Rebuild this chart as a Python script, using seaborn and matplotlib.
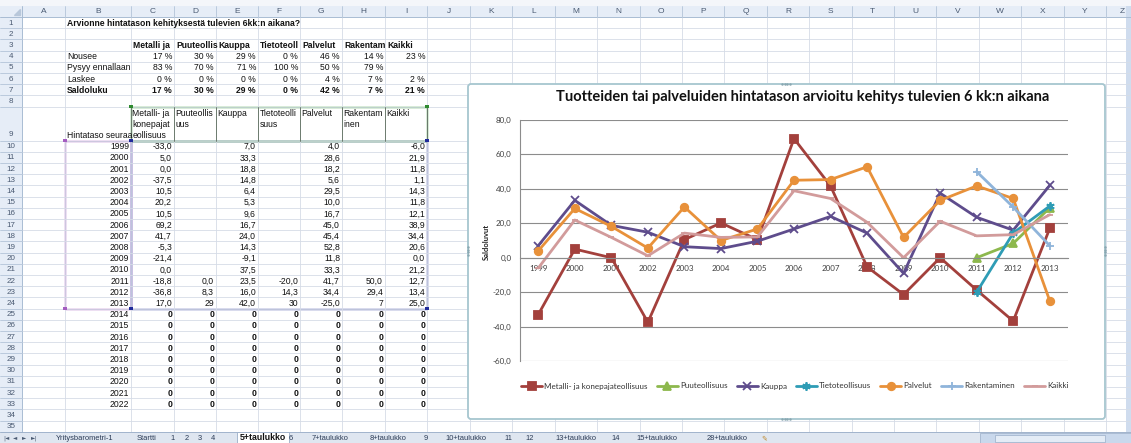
import matplotlib
matplotlib.use("Agg")
import matplotlib.pyplot as plt
from matplotlib.patches import Rectangle, FancyBboxPatch
from matplotlib.ticker import FuncFormatter
import numpy as np
import pandas as pd
import seaborn as sns

NAN = float("nan")

# ─────────────────────────────────────────────
# Data (read from the sheet)
# ─────────────────────────────────────────────
vuodet = list(range(1999, 2014))
sarjat = ["Metalli- ja konepajateollisuus", "Puuteollisuus", "Kauppa",
          "Tietoteollisuus", "Palvelut", "Rakentaminen", "Kaikki"]

metalli      = [-33.0, 5.0, 0.0, -37.5, 10.5, 20.2, 10.5, 69.2, 41.7, -5.3, -21.4, 0.0, -18.8, -36.8, 17.0]
puu          = [NAN] * 12 + [0.0, 8.3, 29]
kauppa       = [7.0, 33.3, 18.8, 14.8, 6.4, 5.3, 9.6, 16.7, 24.0, 14.3, -9.1, 37.5, 23.5, 16.0, 42.0]
tieto        = [NAN] * 12 + [-20.0, 14.3, 30]
palvelut     = [4.0, 28.6, 18.2, 5.6, 29.5, 10.0, 16.7, 45.0, 45.4, 52.8, 11.8, 33.3, 41.7, 34.4, -25.0]
rakentaminen = [NAN] * 12 + [50.0, 29.4, 7]
kaikki       = [-6.0, 21.9, 11.8, 1.1, 14.3, 11.8, 12.1, 38.9, 34.4, 20.6, 0.0, 21.2, 12.7, 13.4, 25.0]
sarja_arvot  = [metalli, puu, kauppa, tieto, palvelut, rakentaminen, kaikki]

tyhjat_vuodet = list(range(2014, 2023))

kysely_rivit = ["Nousee", "Pysyy ennallaan", "Laskee", "Saldoluku"]
kysely_arvot = [
    ["17 %", "30 %", "29 %", "0 %", "46 %", "14 %", "23 %"],
    ["83 %", "70 %", "71 %", "100 %", "50 %", "79 %", ""],
    ["0 %", "0 %", "0 %", "0 %", "4 %", "7 %", "2 %"],
    ["17 %", "30 %", "29 %", "0 %", "42 %", "7 %", "21 %"],
]
lyhyet_otsikot = ["Metalli ja", "Puuteollis", "Kauppa", "Tietoteoll", "Palvelut", "Rakentam", "Kaikki"]
kaaritetyt_otsikot = [["Metalli- ja", "konepajat", "eollisuus"], ["Puuteollis", "uus"], ["Kauppa"],
                      ["Tietoteolli", "suus"], ["Palvelut"], ["Rakentam", "inen"], ["Kaikki"]]

taulu_otsikko  = "Arvionne hintatason kehityksestä tulevien 6kk:n aikana?"
kaavio_otsikko = "Tuotteiden tai palveluiden hintatason arvioitu kehitys tulevien 6 kk:n aikana"

valilehdet = ["Yritysbarometri-1", "Startti", "1", "2", "3", "4", "5+taulukko", "6", "7+taulukko",
              "8+taulukko", "9", "10+taulukko", "11", "12", "13+taulukko", "14", "15+taulukko", "28+taulukko"]
aktiivinen = "5+taulukko"

# ─────────────────────────────────────────────
# Layout / style
# ─────────────────────────────────────────────
W, H = 1131, 443
SHEET_FONT = "Liberation Sans"
CHART_FONT = "Lato"
FS = 6.2
varit   = ["#a3403c", "#8db84d", "#5e4c8c", "#2e9cb5", "#e8913a", "#8fb4da", "#d29b9b"]
merkit  = ["s", "^", "x", (6, 2, 0), "o", "+", "_"]
koot    = [5.2, 5.2, 5.4, 6.0, 5.4, 6.0, 5.0]

kol = [0, 22, 65, 131, 174, 216, 258, 300, 342, 385, 427, 470] + [470 + 42.4 * k for k in range(1, 17)]
tab_x = [85, 147, 173, 187, 200, 213, 263, 291, 330, 388, 426, 466, 508, 530, 576, 616, 657, 727]


def rivi_yla(r):
    if r <= 9:
        return 17 + 11.2 * (r - 1)
    return 140.6 + 11.2 * (r - 10)


def rivi_ala(r):
    return 140.6 if r == 9 else rivi_yla(r) + 11.2


def rivi_kesk(r):
    return (rivi_yla(r) + rivi_ala(r)) / 2 + 0.5


def fmt(v):
    if isinstance(v, int):
        return str(v)
    if isinstance(v, float) and np.isnan(v):
        return ""
    return f"{v:.1f}".replace(".", ",")


sns.set_style("white")
plt.rcParams["font.family"] = [SHEET_FONT, "DejaVu Sans"]

fig = plt.figure(figsize=(W / 100, H / 100), dpi=100)
bg = fig.add_axes([0, 0, 1, 1])
bg.set_xlim(0, W)
bg.set_ylim(H, 0)
bg.axis("off")

# ─────────────────────────────────────────────
# 1. Spreadsheet grid
# ─────────────────────────────────────────────
hdr_fill, hdr_line, grid_c, hdr_txt = "#e6edf7", "#a9bcd3", "#d6dce6", "#4a5a72"
bg.add_patch(Rectangle((0, 0), W, 6, fc="#f4f6fa", ec="none"))
bg.add_patch(Rectangle((0, 6), W, 11, fc=hdr_fill, ec="none"))
bg.add_patch(Rectangle((0, 17), 22, 432 - 17, fc=hdr_fill, ec="none"))
bg.plot([0, W], [17, 17], color=hdr_line, lw=0.7)
bg.plot([22, 22], [6, 432], color=hdr_line, lw=0.7)

for r in range(1, 37):
    y = rivi_ala(r)
    if y < 432:
        bg.plot([22, W], [y, y], color=grid_c, lw=0.6)
        bg.plot([0, 22], [y, y], color=hdr_line, lw=0.5)
    yc = rivi_kesk(r)
    if yc < 432:
        if r == 9:
            yc = 135
        bg.text(11, yc, str(r), ha="center", va="center", fontsize=5.8, color=hdr_txt)

for i in range(1, len(kol) - 1):
    x0, x1 = kol[i], kol[i + 1]
    bg.plot([x1, x1], [17, 432], color=grid_c, lw=0.6)
    bg.plot([x1, x1], [6, 17], color=hdr_line, lw=0.5)
    kirjain = chr(ord("A") + i - 1)
    xc = min((x0 + x1) / 2, 1122)
    bg.text(xc, 11.8, kirjain, ha="center", va="center", fontsize=6, color=hdr_txt)

# corner triangle
bg.fill([14, 20, 20], [15, 15, 9], color="#b8c7da")

# vertical scrollbar strip
bg.add_patch(Rectangle((1126, 6), 5, 426, fc="#cfdcee", ec="none"))

# ─────────────────────────────────────────────
# 2. Cell contents
# ─────────────────────────────────────────────
def solu_vasen(c, r, s, bold=False):
    bg.text(kol[c] + 2, rivi_kesk(r), s, ha="left", va="center", fontsize=FS,
            fontweight="bold" if bold else "normal", color="#111111")


def solu_oikea(c, r, s, bold=False):
    bg.text(kol[c + 1] - 2, rivi_kesk(r), s, ha="right", va="center", fontsize=FS,
            fontweight="bold" if bold else "normal", color="#111111")


solu_vasen(2, 1, taulu_otsikko, bold=True)
for j, s in enumerate(lyhyet_otsikot):
    solu_vasen(3 + j, 3, s, bold=True)
for i, nimi in enumerate(kysely_rivit):
    lihava = nimi == "Saldoluku"
    solu_vasen(2, 4 + i, nimi, bold=lihava)
    for j, s in enumerate(kysely_arvot[i]):
        solu_oikea(3 + j, 4 + i, s, bold=lihava)

# row 9 wrapped headers
for j, rivit in enumerate(kaaritetyt_otsikot):
    for k, s in enumerate(rivit):
        bg.text(kol[3 + j] + 1.5, 113 + 11 * k, s, ha="left", va="center", fontsize=FS, color="#111111")
bg.text(kol[2] + 2, 135, "Hintataso seuraa", ha="left", va="center", fontsize=FS, color="#111111")
for i in range(3, 11):
    bg.plot([kol[i], kol[i]], [106.6, 140.6], color="#5a6a5a", lw=0.6)

# data block
for i, v in enumerate(vuodet):
    r = 10 + i
    solu_oikea(2, r, str(v))
    for j, arvot in enumerate(sarja_arvot):
        solu_oikea(3 + j, r, fmt(arvot[i]))
for i, v in enumerate(tyhjat_vuodet):
    r = 25 + i
    solu_oikea(2, r, str(v))
    for j in range(7):
        bg.text(kol[4 + j] - 4, rivi_kesk(r), "0", ha="center", va="center",
                fontsize=FS, fontweight="bold", color="#111111")

# chart source range highlights
y_top9, y10, y24 = 106.6, 140.6, rivi_ala(24)
bg.add_patch(Rectangle((kol[2], y10), kol[3] - kol[2], y24 - y10, fc="none", ec="#a45cc0", lw=1.0))
bg.add_patch(Rectangle((kol[3], y10), kol[10] - kol[3], y24 - y10, fc="none", ec="#3f48a8", lw=1.0))
bg.add_patch(Rectangle((kol[3], y_top9), kol[10] - kol[3], y10 - y_top9, fc="none", ec="#3d9a3d", lw=1.0))
for (x, y, c) in [(kol[2], y10, "#a45cc0"), (kol[2], y24, "#a45cc0"),
                  (kol[3], y10, "#1f2a9a"), (kol[10], y10, "#1f2a9a"),
                  (kol[3], y24, "#1f2a9a"), (kol[10], y24, "#1f2a9a"),
                  (kol[3], y_top9, "#2f8a2f"), (kol[10], y_top9, "#2f8a2f")]:
    bg.add_patch(Rectangle((x - 1.8, y - 1.8), 3.6, 3.6, fc=c, ec="none", zorder=5))

# ─────────────────────────────────────────────
# 3. Sheet tabs
# ─────────────────────────────────────────────
bg.add_patch(Rectangle((0, 432), W, 11, fc="#dfe6f0", ec="none"))
bg.plot([0, W], [432, 432], color="#9aaec8", lw=0.6)
for x, s in zip([6, 15, 24, 34], ["|◄", "◄", "►", "►|"]):
    bg.text(x, 438, s, ha="center", va="center", fontsize=4, color="#4a5a72", family="DejaVu Sans")
for x, s in zip(tab_x, valilehdet):
    if s == aktiivinen:
        bg.add_patch(Rectangle((x - 26, 432), 52, 11, fc="white", ec="#9aaec8", lw=0.6))
        bg.text(x, 438, s, ha="center", va="center", fontsize=6.3, fontweight="bold", color="#111111")
    else:
        bg.text(x, 438, s, ha="center", va="center", fontsize=5.4, color="#2a3a55")
bg.text(764, 438, "✎", ha="center", va="center", fontsize=5, color="#c08a30", family="DejaVu Sans")
bg.add_patch(Rectangle((980, 433), 151, 10, fc="#c9d8ec", ec="#9aaec8", lw=0.5))
bg.add_patch(Rectangle((995, 434.5), 110, 7, fc="#e4ecf6", ec="#9aaec8", lw=0.5))

# ─────────────────────────────────────────────
# 4. Chart
# ─────────────────────────────────────────────
bg.add_patch(FancyBboxPatch((468, 84), 637, 335, boxstyle="round,pad=0,rounding_size=3",
                            fc="white", ec="#a6c6cf", lw=1.3, zorder=6))
# frame resize grips
for (x, y) in [(786, 84), (786, 419), (468, 251), (1105, 251)]:
    horiz = y in (84, 419)
    xs = [x - 4, x - 1.3, x + 1.3, x + 4] if horiz else [x] * 4
    ys = [y] * 4 if horiz else [y - 4, y - 1.3, y + 1.3, y + 4]
    bg.scatter(xs, ys, s=0.6, color="#8aa8b2", zorder=7)
bg.text(803, 96.5, kaavio_otsikko, ha="center", va="center", fontsize=10.5, fontweight="bold",
        family=CHART_FONT, color="#111111", zorder=7)

ax = fig.add_axes([520 / W, 1 - 361 / H, 548 / W, 241 / H], zorder=8)
ax.set_facecolor("none")

df = pd.DataFrame({
    "Vuosi": vuodet * len(sarjat),
    "Saldoluku": sum(sarja_arvot, []),
    "Sarja": [s for s in sarjat for _ in vuodet],
})

for k, nimi in enumerate(sarjat):
    osa = df[df["Sarja"] == nimi].dropna()
    sns.lineplot(data=osa, x="Vuosi", y="Saldoluku", ax=ax, color=varit[k], lw=2.0,
                 marker=merkit[k], markersize=koot[k], markeredgecolor=varit[k],
                 markeredgewidth=1.3, label=nimi, errorbar=None, sort=True)

ax.set_xlim(1998.5, 2013.5)
ax.set_ylim(-60, 80)
ax.set_yticks(np.arange(-60, 81, 20))
ax.yaxis.set_major_formatter(FuncFormatter(lambda v, p: f"{v:.1f}".replace(".", ",")))
ax.set_xticks(vuodet)
ax.set_xticklabels([str(v) for v in vuodet])
ax.yaxis.grid(True, color="#8c8c8c", lw=0.8)
ax.xaxis.grid(False)
ax.set_axisbelow(True)
for s in ["top", "right"]:
    ax.spines[s].set_visible(False)
ax.spines["left"].set_color("#8c8c8c")
ax.spines["left"].set_linewidth(0.8)
ax.spines["bottom"].set_position(("data", 0))
ax.spines["bottom"].set_color("#8c8c8c")
ax.spines["bottom"].set_linewidth(0.8)
ax.tick_params(axis="both", length=0, labelsize=5.8, labelcolor="#404040")
ax.tick_params(axis="x", pad=5.5)
ax.tick_params(axis="y", pad=6)
for t in ax.get_xticklabels() + ax.get_yticklabels():
    t.set_family(CHART_FONT)
ax.set_xlabel("")
ax.set_ylabel("Saldoluvut", fontsize=5.5, fontweight="bold", family=CHART_FONT, color="#222222")
ax.yaxis.set_label_coords(-0.055, 0.494)

leg = ax.legend(loc="center", bbox_to_anchor=(795 / W, 1 - 386 / H), bbox_transform=fig.transFigure,
                ncol=7, frameon=False, handlelength=2.6, handletextpad=0.3,
                columnspacing=1.1, prop={"family": CHART_FONT, "size": 5.8})
for t in leg.get_texts():
    t.set_color("#333333")

plt.savefig("out.png", dpi=100)
